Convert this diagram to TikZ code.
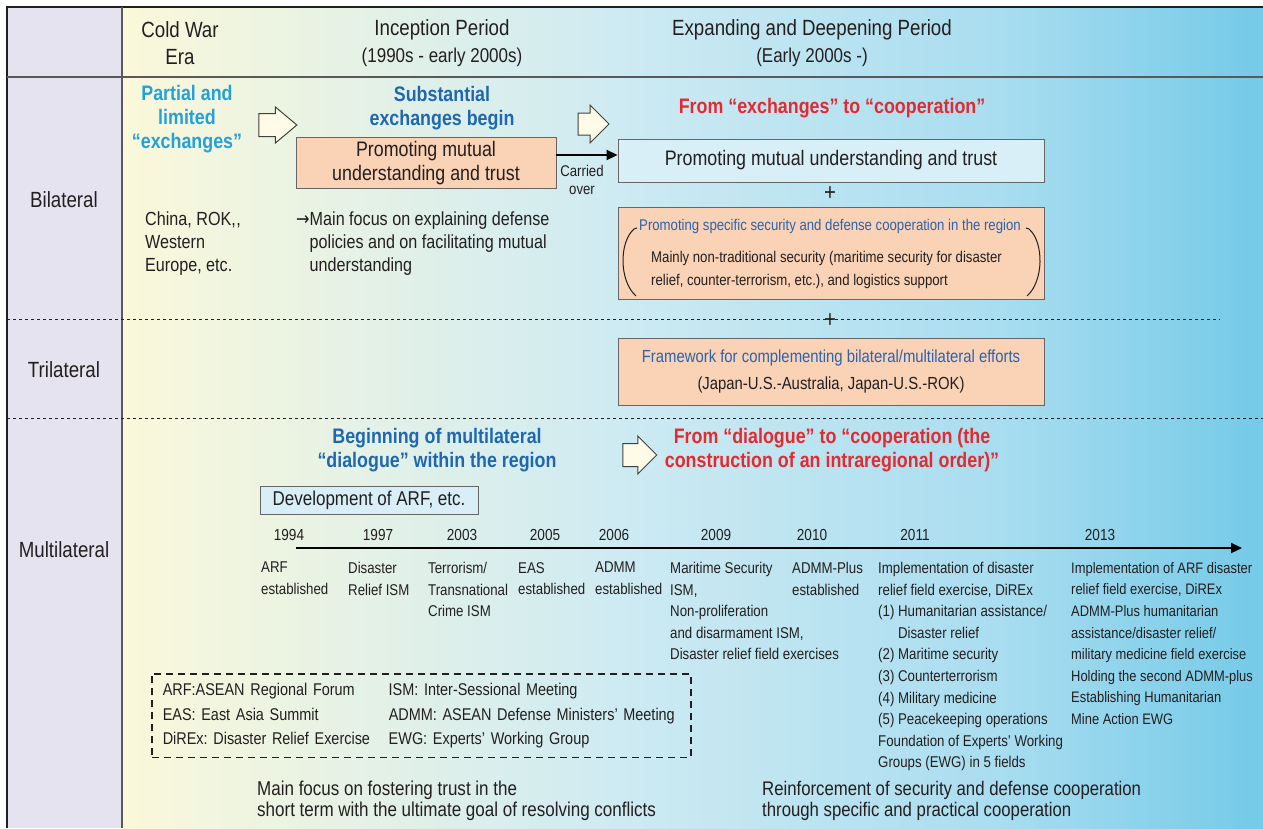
\documentclass[tikz,border=0pt]{standalone}
\usepackage{fontspec}
\setmainfont{Liberation Sans}[FakeStretch=0.85]
\newfontfamily\symfont{DejaVu Sans}[FakeStretch=0.85]
\usepackage{tikz}
\usetikzlibrary{arrows.meta,shapes.arrows}

\definecolor{ink}{HTML}{231F20}
\definecolor{rowhead}{HTML}{E5E3F0}
\definecolor{peach}{HTML}{FAD2B6}
\definecolor{icebox}{HTML}{D8EFF8}
\definecolor{cream}{HTML}{FEFCE8}
\definecolor{skyblue}{HTML}{22A2DC}
\definecolor{navyblue}{HTML}{1F68B1}
\definecolor{boxblue}{HTML}{2B63AE}
\definecolor{hotred}{HTML}{E42A30}
\definecolor{gradA}{HTML}{FAF8DA}
\definecolor{gradB}{HTML}{D0EBF2}
\definecolor{gradC}{HTML}{A9DDF0}
\definecolor{gradD}{HTML}{74CAE8}

\begin{document}
\frenchspacing
\begin{tikzpicture}[
  x=1pt, y=-1pt,
  every node/.append style={text=ink},
  rowlbl/.style={font=\fontsize{22}{26}\selectfont},
  period/.style={font=\fontsize{22}{27}\selectfont, align=center},
  motto/.style={font=\bfseries\fontsize{21}{24}\selectfont, align=center, inner sep=0pt},
  pbox/.style={draw=black!60, line width=0.9pt, fill=peach},
  ibox/.style={draw=black!60, line width=0.9pt, fill=icebox},
  body/.style={font=\fontsize{19}{23}\selectfont, align=left, inner sep=0pt, anchor=north west},
  event/.style={font=\fontsize{15.6}{21.6}\selectfont, align=left, inner sep=0pt, anchor=north west},
  year/.style={font=\fontsize{16}{20}\selectfont, inner sep=0pt},
  plus/.style={font=\fontsize{24}{24}\selectfont, inner sep=0pt},
  fwd/.style={single arrow, draw=black!75, line width=1pt, fill=cream, inner xsep=0pt, inner ysep=11pt,
              minimum height=38pt, single arrow head extend=6.5pt, single arrow tip angle=80},
  fl/.style={-{Triangle[length=11pt,width=10pt]}, line width=1.8pt},
]
\useasboundingbox (0,0) rectangle (1263,828);

% background and frame
\shade[left color=gradA, right color=gradB] (122,7) rectangle (600,828);
\shade[left color=gradB, right color=gradC] (600,7) rectangle (1000,828);
\shade[left color=gradC, right color=gradD] (1000,7) rectangle (1263,828);
\fill[rowhead] (7,7) rectangle (122,828);
\draw[ink, line width=1.2pt] (1263,7) -- (7,7) -- (7,828);
\draw[black!65, line width=1.2pt] (122,7) -- (122,828);
\draw[black!65, line width=1.2pt] (7,77) -- (1263,77);
\draw[ink, dashed, line width=0.7pt] (7,319) -- (1220,319);
\draw[ink, dashed, line width=0.7pt] (7,418) -- (1263,418);

% header
\node[period] (cw) at (180,43) {Cold War\\Era};
\node[period] (incp) at (442,43) {Inception Period\\\fontsize{20}{24}\selectfont(1990s - early 2000s)};
\node[period] (expp) at (812,43) {Expanding and Deepening Period\\\fontsize{20}{24}\selectfont(Early 2000s -)};

\node[rowlbl] (bil) at (64,200) {Bilateral};
\node[rowlbl] (tri) at (64,370) {Trilateral};
\node[rowlbl] (mul) at (64,550) {Multilateral};

% bilateral
\node[motto, text=skyblue] (partial) at (187,119) {Partial and\\limited\\“exchanges”};
\node[fwd] (go1) at (271,125) {};
\node[motto, text=navyblue] (subst) at (442,108) {Substantial\\exchanges begin};
\node[fwd, minimum height=31pt, inner ysep=10.5pt, single arrow head extend=8pt, single arrow tip angle=90] (go2) at (588,124) {};
\node[pbox, minimum width=260pt, minimum height=48pt, align=center,
      font=\fontsize{21}{24}\selectfont] (inc) at (426,163) {Promoting mutual\\understanding and trust};
\node[font=\fontsize{15.5}{17.5}\selectfont, align=center, inner sep=0pt] (carried) at (582,180) {Carried\\over};
\node[motto, text=hotred] (fromex) at (832,108) {From “exchanges” to “cooperation”};
\node[ibox, minimum width=426pt, minimum height=43pt,
      font=\fontsize{21}{24}\selectfont] (exp1) at (831,160.5) {Promoting mutual understanding and trust};
\draw[fl] ([yshift=8pt]inc.east) -- ([yshift=5.5pt]exp1.west);
\node[plus] (plus1) at (830,194) {+};
\node[pbox, minimum width=426pt, minimum height=92pt] (spec) at (831,253) {};
\node[font=\fontsize{15.5}{18}\selectfont, text=boxblue, inner sep=0pt] (spechd) at (830,226)
  {Promoting specific security and defense cooperation in the region};
\node[font=\fontsize{15.5}{23}\selectfont, align=left, inner sep=0pt, anchor=north west] (specbd) at (651,251)
  {Mainly non-traditional security (maritime security for disaster\\relief, counter-terrorism, etc.), and logistics support};
\draw[ink, line width=1pt] (637,228) -- (634,229) .. controls (619,242) and (619,281) .. (636,296);
\draw[ink, line width=1pt] (1026,228) -- (1029,229) .. controls (1044,242) and (1044,281) .. (1027,296);

\node[body] (partners) at (145,212) {China, ROK,\kern0.6pt,\\Western\\Europe, etc.};
\node[body] (focus) at (296,212) {{\symfont→}Main focus on explaining defense\\\hphantom{\symfont→}policies and on facilitating mutual\\\hphantom{\symfont→}understanding};

% trilateral
\node[plus] (plus2) at (830,321) {+};
\node[pbox, minimum width=426pt, minimum height=67pt, align=center,
      font=\fontsize{17.5}{27}\selectfont] (trilat) at (831,371.5)
  {\textcolor{boxblue}{Framework for complementing bilateral/multilateral efforts}\\(Japan-U.S.-Australia, Japan-U.S.-ROK)};

% multilateral
\node[motto, text=navyblue] (begin) at (437,450) {Beginning of multilateral\\“dialogue” within the region};
\node[fwd, minimum height=34pt, inner ysep=11pt, single arrow head extend=7.5pt, single arrow tip angle=90] (go3) at (634,455) {};
\node[motto, text=hotred] (fromdia) at (832,450) {From “dialogue” to “cooperation (the\\construction of an intraregional order)”};
\node[ibox, minimum width=218pt, minimum height=28pt,
      font=\fontsize{20}{22}\selectfont] (devarf) at (369,500) {Development of ARF, etc.};

\foreach \yr/\yx in {1994/289,1997/378,2003/462,2005/545,2006/614,2009/716,2010/812,2011/915,2013/1100}
  \node[year] (y\yr) at (\yx,535) {\yr};
\coordinate (tstart) at (296,548);
\coordinate (tend) at (1242,548);
\draw[fl, line width=2.2pt] (tstart) -- (tend);

\node[event] (e1994) at (261,562) {ARF\\established};
\node[event] (e1997) at (348,562) {Disaster\\Relief ISM};
\node[event] (e2003) at (428,562) {Terrorism/\\Transnational\\Crime ISM};
\node[event] (e2005) at (518,562) {EAS\\established};
\node[event] (e2006) at (595,562) {ADMM\\established};
\node[event] (e2009) at (670,562) {Maritime Security\\ISM,\\Non-proliferation\\and disarmament ISM,\\Disaster relief field exercises};
\node[event] (e2010) at (792,562) {ADMM-Plus\\established};
\node[event] (e2011) at (878,562) {Implementation of disaster\\relief field exercise, DiREx\\(1) Humanitarian assistance/\\\hphantom{(1)}~Disaster relief\\(2) Maritime security\\(3) Counterterrorism\\(4) Military medicine\\(5) Peacekeeping operations\\Foundation of Experts’ Working\\Groups (EWG) in 5 fields};
\node[event, font=\fontsize{15.2}{21.6}\selectfont] (e2013) at (1071,562) {Implementation of ARF disaster\\relief field exercise, DiREx\\ADMM-Plus humanitarian\\assistance/disaster relief/\\military medicine field exercise\\Holding the second ADMM-plus\\Establishing Humanitarian\\Mine Action EWG};

% abbreviations
\node[draw=ink, dash pattern=on 7pt off 5pt, line width=1.5pt, anchor=north west,
      inner xsep=11pt, inner ysep=5pt, text width=517pt,
      font=\fontsize{17}{24.5}\selectfont] (legend) at (151,673)
  {\begin{tabular}{@{}p{226pt}@{}l@{}}
   ARF:ASEAN Regional Forum & ISM: Inter-Sessional Meeting\\
   EAS: East Asia Summit & ADMM: ASEAN Defense Ministers’ Meeting\\
   DiREx: Disaster Relief Exercise & EWG: Experts’ Working Group
   \end{tabular}};

\node[body, font=\fontsize{20}{21}\selectfont] (mainfocus) at (257,781)
  {Main focus on fostering trust in the\\short term with the ultimate goal of resolving conflicts};
\node[body, font=\fontsize{19.7}{21}\selectfont] (reinf) at (762,781)
  {Reinforcement of security and defense cooperation\\through specific and practical cooperation};
\end{tikzpicture}
\end{document}
